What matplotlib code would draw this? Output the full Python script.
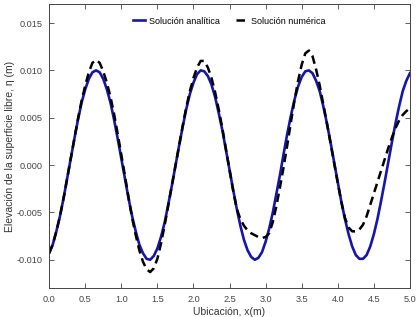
import numpy as np
import matplotlib
matplotlib.use('Agg')
import matplotlib.pyplot as plt
from matplotlib.ticker import FormatStrFormatter

plt.rcParams['font.family'] = ['Liberation Sans', 'DejaVu Sans']
plt.rcParams['axes.unicode_minus'] = False

# Location along the channel, x (m), every 0.05 m
x = np.linspace(0.0, 5.0, 101)

# Analytical solution, free surface elevation (m)
eta_analitica = [
    -0.0093, -0.0084, -0.0070, -0.0054, -0.0035, -0.0014, 0.0007, 0.0028, 0.0048, 0.0066,
    0.0080, 0.0091, 0.0098, 0.0100, 0.0098, 0.0091, 0.0080, 0.0066, 0.0048, 0.0028,
    0.0007, -0.0014, -0.0035, -0.0054, -0.0070, -0.0084, -0.0093, -0.0099, -0.0100, -0.0096,
    -0.0088, -0.0076, -0.0061, -0.0042, -0.0022, -0.0001, 0.0020, 0.0040, 0.0059, 0.0075,
    0.0087, 0.0096, 0.0100, 0.0099, 0.0094, 0.0085, 0.0072, 0.0055, 0.0037, 0.0016,
    -0.0005, -0.0026, -0.0046, -0.0064, -0.0079, -0.0090, -0.0097, -0.0100, -0.0098, -0.0092,
    -0.0081, -0.0067, -0.0050, -0.0030, -0.0010, 0.0012, 0.0033, 0.0052, 0.0069, 0.0083,
    0.0093, 0.0099, 0.0100, 0.0097, 0.0089, 0.0078, 0.0062, 0.0044, 0.0024, 0.0003,
    -0.0018, -0.0039, -0.0057, -0.0073, -0.0086, -0.0095, -0.0099, -0.0099, -0.0095, -0.0086,
    -0.0073, -0.0057, -0.0038, -0.0018, 0.0003, 0.0024, 0.0044, 0.0062, 0.0078, 0.0089,
    0.0097,
]

# Numerical solution, free surface elevation (m)
eta_numerica = [
    -0.0093, -0.0084, -0.0070, -0.0054, -0.0035, -0.0014, 0.0007, 0.0028, 0.0049, 0.0068,
    0.0084, 0.0098, 0.0108, 0.0111, 0.0108, 0.0099, 0.0087, 0.0072, 0.0054, 0.0033,
    0.0011, -0.0011, -0.0034, -0.0056, -0.0074, -0.0090, -0.0102, -0.0110, -0.0113, -0.0109,
    -0.0099, -0.0083, -0.0064, -0.0043, -0.0022, -0.0001, 0.0020, 0.0041, 0.0061, 0.0078,
    0.0092, 0.0103, 0.0110, 0.0110, 0.0103, 0.0092, 0.0077, 0.0059, 0.0039, 0.0017,
    -0.0005, -0.0027, -0.0046, -0.0057, -0.0064, -0.0069, -0.0072, -0.0074, -0.0076, -0.0077,
    -0.0076, -0.0072, -0.0060, -0.0043, -0.0023, -0.0002, 0.0021, 0.0045, 0.0068, 0.0089,
    0.0106, 0.0118, 0.0121, 0.0115, 0.0101, 0.0084, 0.0064, 0.0044, 0.0023, 0.0002,
    -0.0019, -0.0039, -0.0056, -0.0066, -0.0070, -0.0070, -0.0068, -0.0063, -0.0054, -0.0042,
    -0.0030, -0.0018, -0.0006, 0.0006, 0.0018, 0.0029, 0.0039, 0.0047, 0.0053, 0.0057,
    0.0060,
]

xticks = np.arange(0.0, 5.01, 0.5)
yticks = [-0.010, -0.005, 0.000, 0.005, 0.010, 0.015]

fig = plt.figure(figsize=(4.2, 3.17), dpi=100)
ax = fig.add_axes([0.117, 0.091, 0.859, 0.896])

ax.plot(x, eta_analitica, color='#1616a8', lw=1.9, label='Solución analítica')
ax.plot(x, eta_numerica, color='black', lw=1.8, dashes=(3.4, 2.0), label='Solución numérica')

ax.set_xlim(0.0, 5.0)
ax.set_ylim(-0.013, 0.017)
ax.set_xticks(xticks)
ax.set_yticks(yticks)
ax.xaxis.set_major_formatter(FormatStrFormatter('%.1f'))
ax.yaxis.set_major_formatter(FormatStrFormatter('%.3f'))
ax.tick_params(direction='in', top=True, right=True, length=3.5, width=0.6,
               labelsize=6.6, colors='#444444', pad=5)
for s in ax.spines.values():
    s.set_color('#444444')
    s.set_linewidth(0.7)

ax.set_xlabel('Ubicación, x(m)', fontsize=7.5, color='#333333', labelpad=2)
ax.set_ylabel('Elevación de la superficie libre, η (m)', fontsize=7.5, color='#333333', labelpad=2)
ax.yaxis.set_label_coords(-0.095, 0.5)

ax.legend(loc='upper center', ncol=2, frameon=False, fontsize=6.5,
          handlelength=1.3, columnspacing=1.8, handletextpad=0.4,
          bbox_to_anchor=(0.5, 0.985))

fig.savefig('out.png', dpi=100)
